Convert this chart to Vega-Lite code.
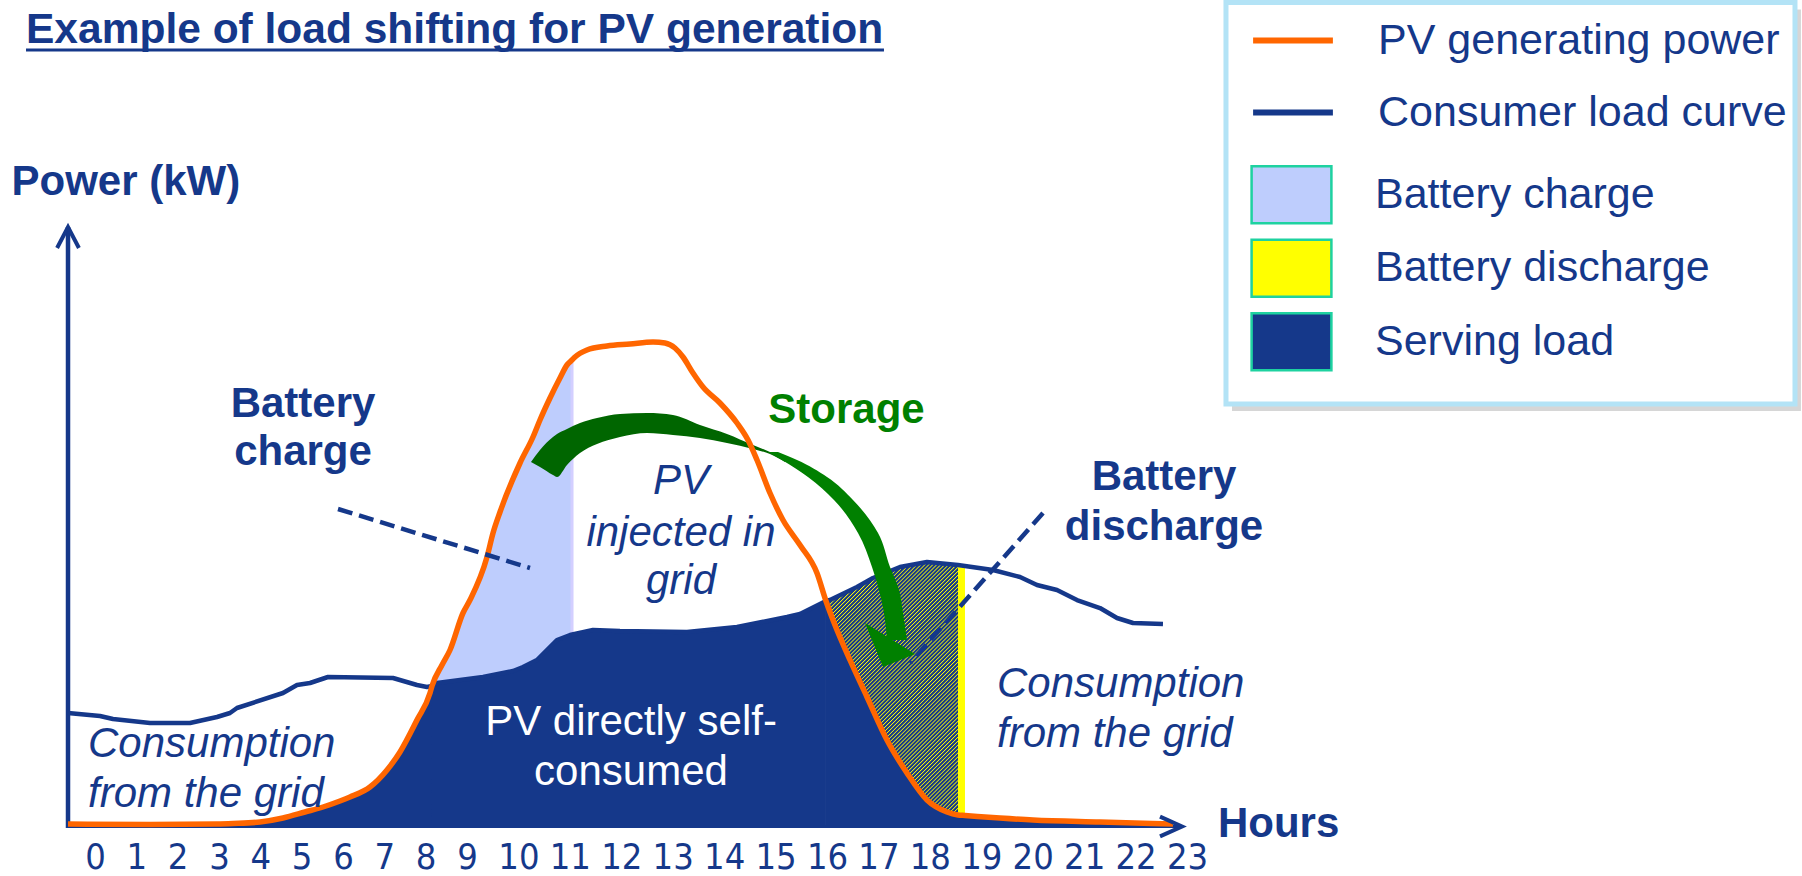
{
  "$schema": "https://vega.github.io/schema/vega-lite/v6.json",
  "width": 1802,
  "height": 876,
  "padding": 0,
  "autosize": "none",
  "background": "white",
  "config": {"view": {"stroke": null}, "font": "Liberation Sans"},
  "datasets": {
    "pv": [
      {"h": -0.653, "kw": 0.02}, {"h": 1.331, "kw": 0.01}, {"h": 2.952, "kw": 0.02}, {"h": 3.339, "kw": 0.03},
      {"h": 3.992, "kw": 0.06}, {"h": 4.548, "kw": 0.14}, {"h": 5.081, "kw": 0.26}, {"h": 5.516, "kw": 0.36},
      {"h": 5.927, "kw": 0.48}, {"h": 6.169, "kw": 0.56}, {"h": 6.653, "kw": 0.76}, {"h": 7.065, "kw": 1.10},
      {"h": 7.379, "kw": 1.46}, {"h": 7.790, "kw": 2.10}, {"h": 8.105, "kw": 2.64}, {"h": 8.153, "kw": 2.78},
      {"h": 8.395, "kw": 3.20}, {"h": 8.589, "kw": 3.50}, {"h": 8.903, "kw": 4.24}, {"h": 9.058, "kw": 4.50},
      {"h": 9.389, "kw": 5.36}, {"h": 9.506, "kw": 5.84}, {"h": 9.642, "kw": 6.26}, {"h": 10.031, "kw": 7.24},
      {"h": 10.283, "kw": 7.76}, {"h": 10.419, "kw": 8.10}, {"h": 10.614, "kw": 8.54}, {"h": 10.808, "kw": 8.94},
      {"h": 10.944, "kw": 9.20}, {"h": 11.042, "kw": 9.30}, {"h": 11.100, "kw": 9.36}, {"h": 11.333, "kw": 9.50},
      {"h": 11.722, "kw": 9.58}, {"h": 12.169, "kw": 9.62}, {"h": 12.617, "kw": 9.66}, {"h": 12.850, "kw": 9.64},
      {"h": 13.044, "kw": 9.54}, {"h": 13.200, "kw": 9.36}, {"h": 13.394, "kw": 9.04}, {"h": 13.589, "kw": 8.76},
      {"h": 13.919, "kw": 8.44}, {"h": 14.250, "kw": 8.04}, {"h": 14.464, "kw": 7.70}, {"h": 14.639, "kw": 7.30},
      {"h": 14.891, "kw": 6.64}, {"h": 15.144, "kw": 6.10}, {"h": 15.475, "kw": 5.60}, {"h": 15.805, "kw": 5.04},
      {"h": 15.980, "kw": 4.48}, {"h": 16.155, "kw": 4.00}, {"h": 16.447, "kw": 3.30}, {"h": 16.778, "kw": 2.56},
      {"h": 17.166, "kw": 1.70}, {"h": 17.555, "kw": 1.04}, {"h": 17.944, "kw": 0.50}, {"h": 18.333, "kw": 0.26},
      {"h": 18.547, "kw": 0.20}, {"h": 18.683, "kw": 0.19}, {"h": 19.364, "kw": 0.14}, {"h": 20.005, "kw": 0.10},
      {"h": 21.308, "kw": 0.06}, {"h": 22.727, "kw": 0.02}
    ],
    "load": [
      {"h": -0.653, "kw": 2.24}, {"h": 0.121, "kw": 2.18}, {"h": 0.435, "kw": 2.12}, {"h": 1.331, "kw": 2.04},
      {"h": 2.298, "kw": 2.04}, {"h": 2.952, "kw": 2.16}, {"h": 3.266, "kw": 2.24}, {"h": 3.435, "kw": 2.34},
      {"h": 4.548, "kw": 2.64}, {"h": 4.887, "kw": 2.80}, {"h": 5.202, "kw": 2.84}, {"h": 5.637, "kw": 2.96},
      {"h": 7.210, "kw": 2.94}, {"h": 7.790, "kw": 2.80}, {"h": 8.032, "kw": 2.76}, {"h": 8.153, "kw": 2.78},
      {"h": 8.274, "kw": 2.84}, {"h": 9.311, "kw": 2.96}, {"h": 9.894, "kw": 3.08}, {"h": 10.089, "kw": 3.16},
      {"h": 10.361, "kw": 3.30}, {"h": 10.750, "kw": 3.70}, {"h": 11.003, "kw": 3.80}, {"h": 11.450, "kw": 3.90},
      {"h": 11.975, "kw": 3.88}, {"h": 13.278, "kw": 3.86}, {"h": 14.250, "kw": 3.96}, {"h": 15.222, "kw": 4.16},
      {"h": 15.475, "kw": 4.22}, {"h": 15.980, "kw": 4.48}, {"h": 16.058, "kw": 4.50}, {"h": 16.583, "kw": 4.76},
      {"h": 16.894, "kw": 4.94}, {"h": 17.419, "kw": 5.16}, {"h": 17.944, "kw": 5.26}, {"h": 18.547, "kw": 5.20},
      {"h": 18.683, "kw": 5.18}, {"h": 19.228, "kw": 5.10}, {"h": 19.753, "kw": 4.96}, {"h": 20.083, "kw": 4.80},
      {"h": 20.472, "kw": 4.70}, {"h": 20.861, "kw": 4.50}, {"h": 21.308, "kw": 4.34}, {"h": 21.639, "kw": 4.14},
      {"h": 21.950, "kw": 4.04}, {"h": 22.533, "kw": 4.02}
    ],
    "arrowA": [
      {"h": 10.244, "kw": 7.26, "kw2": 7.26}, {"h": 10.419, "kw": 7.50, "kw2": 7.16}, {"h": 10.672, "kw": 7.76, "kw2": 7.00},
      {"h": 10.750, "kw": 7.82, "kw2": 6.96}, {"h": 10.944, "kw": 7.92, "kw2": 7.20}, {"h": 11.197, "kw": 8.04, "kw2": 7.44},
      {"h": 11.528, "kw": 8.14, "kw2": 7.62}, {"h": 11.975, "kw": 8.22, "kw2": 7.76}, {"h": 12.500, "kw": 8.24, "kw2": 7.84},
      {"h": 13.005, "kw": 8.20, "kw2": 7.80}, {"h": 13.530, "kw": 8.00, "kw2": 7.74}, {"h": 14.055, "kw": 7.82, "kw2": 7.64},
      {"h": 14.561, "kw": 7.60, "kw2": 7.52}, {"h": 14.891, "kw": 7.46, "kw2": 7.42}, {"h": 15.183, "kw": 7.30, "kw2": 7.26}
    ],
    "arrowB": [
      {"kw": 7.46, "h": 14.853, "h2": 15.047}, {"kw": 7.30, "h": 15.125, "h2": 15.417}, {"kw": 6.96, "h": 15.630, "h2": 16.000},
      {"kw": 6.50, "h": 16.136, "h2": 16.505}, {"kw": 5.84, "h": 16.603, "h2": 16.992}, {"kw": 5.16, "h": 16.875, "h2": 17.225},
      {"kw": 4.70, "h": 17.011, "h2": 17.400}, {"kw": 4.24, "h": 17.108, "h2": 17.478}, {"kw": 3.70, "h": 17.167, "h2": 17.555}
    ]
  },
  "encoding": {
    "x": {"field": "h", "type": "quantitative",
          "scale": {"domain": [0, 9, 23], "range": [95, 467, 1187], "nice": false, "zero": false},
          "axis": {"orient": "bottom", "offset": -8, "values": [0, 1, 2, 3, 4, 5, 6, 7, 8, 9, 10, 11, 12, 13, 14, 15, 16, 17, 18, 19, 20, 21, 22, 23],
                   "format": "d", "title": null, "domain": false, "ticks": false, "tickSize": 0, "grid": false,
                   "labelFont": "Liberation Sans Narrow, DejaVu Sans Condensed, Liberation Sans, sans-serif", "labelFontSize": 36, "labelColor": "#15388A", "labelPadding": 0,
                   "labelBaseline": "alphabetic", "labelAlign": "center", "labelFlush": false, "labelOverlap": false, "labelBound": false}},
    "y": {"field": "kw", "type": "quantitative", "axis": null,
          "scale": {"domain": [-1.02, 16.5], "nice": false, "zero": false}}
  },
  "layer": [
    {
      "data": {"values": [{"h": 23.875, "h2": 34.938, "kw": 16.31, "kw2": 8.28}]},
      "mark": {"type": "rect", "color": "#CCCCCC", "opacity": 0.8},
      "encoding": {"x2": {"field": "h2"}, "y2": {"field": "kw2"}}
    },
    {
      "data": {"values": [{"h": 23.758, "h2": 34.822, "kw": 16.45, "kw2": 8.42}]},
      "mark": {"type": "rect", "fill": "#FFFFFF", "stroke": "#B3E3F6", "strokeWidth": 5, "opacity": 1},
      "encoding": {"x2": {"field": "h2"}, "y2": {"field": "kw2"}}
    },
    {
      "data": {"name": "pv"},
      "transform": [{"filter": "datum.h >= 8.153 && datum.h <= 11.042"}],
      "mark": {"type": "area", "interpolate": "monotone", "opacity": 1},
      "encoding": {
        "y2": {"datum": 0},
        "fill": {
          "datum": "Battery charge",
          "scale": {"domain": ["Battery charge", "Battery discharge", "Serving load"], "range": ["#BECDFD", "#FFFF00", "#15388A"]},
          "legend": {
            "title": null, "orient": "none", "legendX": 1261.5, "legendY": 164.8, "direction": "vertical", "padding": 0,
            "labelFont": "Liberation Sans", "labelFontSize": 43, "labelColor": "#15388A", "labelOffset": 53.5, "labelLimit": 1000,
            "symbolType": "M-1.4,-1L1.4,-1L1.4,1L-1.4,1Z", "symbolSize": 3249, "symbolOffset": 0,
            "symbolStrokeColor": "#1ED2A0", "symbolStrokeWidth": 2.5, "symbolOpacity": 1, "rowPadding": 5.5
          }
        }
      }
    },
    {
      "data": {"values": [{"h": 11.042, "kw": 3.82, "kw2": 9.24}]},
      "mark": {"type": "rule", "color": "#D3CFFF", "strokeWidth": 3},
      "encoding": {"y2": {"field": "kw2"}}
    },
    {
      "data": {"name": "load"},
      "transform": [{"filter": "datum.h >= 15.98 && datum.h <= 18.683"}],
      "mark": {"type": "area", "opacity": 1},
      "encoding": {
        "y2": {"datum": 0},
        "fill": {"datum": "Battery discharge",
          "scale": {"domain": ["Battery charge", "Battery discharge", "Serving load"], "range": ["#BECDFD", "#FFFF00", "#15388A"]}}
      }
    },
    {
      "data": {"name": "load"},
      "transform": [{"filter": "datum.h >= 15.98 && datum.h <= 18.547"}],
      "mark": {"type": "area", "opacity": 1,
        "fill": {"gradient": "linear", "x1": 0, "y1": 0, "x2": 0.602, "y2": 1.2, "stops": [
          {"offset": 0, "color": "#15388A"}, {"offset": 0.0045, "color": "#15388A"}, {"offset": 0.007, "color": "#FFFF00"},
          {"offset": 0.01, "color": "#15388A"}, {"offset": 0.0145, "color": "#15388A"}, {"offset": 0.017, "color": "#FFFF00"},
          {"offset": 0.02, "color": "#15388A"}, {"offset": 0.0245, "color": "#15388A"}, {"offset": 0.027, "color": "#FFFF00"},
          {"offset": 0.03, "color": "#15388A"}, {"offset": 0.0345, "color": "#15388A"}, {"offset": 0.037, "color": "#FFFF00"},
          {"offset": 0.04, "color": "#15388A"}, {"offset": 0.0445, "color": "#15388A"}, {"offset": 0.047, "color": "#FFFF00"},
          {"offset": 0.05, "color": "#15388A"}, {"offset": 0.0545, "color": "#15388A"}, {"offset": 0.057, "color": "#FFFF00"},
          {"offset": 0.06, "color": "#15388A"}, {"offset": 0.0645, "color": "#15388A"}, {"offset": 0.067, "color": "#FFFF00"},
          {"offset": 0.07, "color": "#15388A"}, {"offset": 0.0745, "color": "#15388A"}, {"offset": 0.077, "color": "#FFFF00"},
          {"offset": 0.08, "color": "#15388A"}, {"offset": 0.0845, "color": "#15388A"}, {"offset": 0.087, "color": "#FFFF00"},
          {"offset": 0.09, "color": "#15388A"}, {"offset": 0.0945, "color": "#15388A"}, {"offset": 0.097, "color": "#FFFF00"},
          {"offset": 0.10, "color": "#15388A"}, {"offset": 0.1045, "color": "#15388A"}, {"offset": 0.107, "color": "#FFFF00"},
          {"offset": 0.11, "color": "#15388A"}, {"offset": 0.1145, "color": "#15388A"}, {"offset": 0.117, "color": "#FFFF00"},
          {"offset": 0.12, "color": "#15388A"}, {"offset": 0.1245, "color": "#15388A"}, {"offset": 0.127, "color": "#FFFF00"},
          {"offset": 0.13, "color": "#15388A"}, {"offset": 0.1345, "color": "#15388A"}, {"offset": 0.137, "color": "#FFFF00"},
          {"offset": 0.14, "color": "#15388A"}, {"offset": 0.1445, "color": "#15388A"}, {"offset": 0.147, "color": "#FFFF00"},
          {"offset": 0.15, "color": "#15388A"}, {"offset": 0.1545, "color": "#15388A"}, {"offset": 0.157, "color": "#FFFF00"},
          {"offset": 0.16, "color": "#15388A"}, {"offset": 0.1645, "color": "#15388A"}, {"offset": 0.167, "color": "#FFFF00"},
          {"offset": 0.17, "color": "#15388A"}, {"offset": 0.1745, "color": "#15388A"}, {"offset": 0.177, "color": "#FFFF00"},
          {"offset": 0.18, "color": "#15388A"}, {"offset": 0.1845, "color": "#15388A"}, {"offset": 0.187, "color": "#FFFF00"},
          {"offset": 0.19, "color": "#15388A"}, {"offset": 0.1945, "color": "#15388A"}, {"offset": 0.197, "color": "#FFFF00"},
          {"offset": 0.20, "color": "#15388A"}, {"offset": 0.2045, "color": "#15388A"}, {"offset": 0.207, "color": "#FFFF00"},
          {"offset": 0.21, "color": "#15388A"}, {"offset": 0.2145, "color": "#15388A"}, {"offset": 0.217, "color": "#FFFF00"},
          {"offset": 0.22, "color": "#15388A"}, {"offset": 0.2245, "color": "#15388A"}, {"offset": 0.227, "color": "#FFFF00"},
          {"offset": 0.23, "color": "#15388A"}, {"offset": 0.2345, "color": "#15388A"}, {"offset": 0.237, "color": "#FFFF00"},
          {"offset": 0.24, "color": "#15388A"}, {"offset": 0.2445, "color": "#15388A"}, {"offset": 0.247, "color": "#FFFF00"},
          {"offset": 0.25, "color": "#15388A"}, {"offset": 0.2545, "color": "#15388A"}, {"offset": 0.257, "color": "#FFFF00"},
          {"offset": 0.26, "color": "#15388A"}, {"offset": 0.2645, "color": "#15388A"}, {"offset": 0.267, "color": "#FFFF00"},
          {"offset": 0.27, "color": "#15388A"}, {"offset": 0.2745, "color": "#15388A"}, {"offset": 0.277, "color": "#FFFF00"},
          {"offset": 0.28, "color": "#15388A"}, {"offset": 0.2845, "color": "#15388A"}, {"offset": 0.287, "color": "#FFFF00"},
          {"offset": 0.29, "color": "#15388A"}, {"offset": 0.2945, "color": "#15388A"}, {"offset": 0.297, "color": "#FFFF00"},
          {"offset": 0.30, "color": "#15388A"}, {"offset": 0.3045, "color": "#15388A"}, {"offset": 0.307, "color": "#FFFF00"},
          {"offset": 0.31, "color": "#15388A"}, {"offset": 0.3145, "color": "#15388A"}, {"offset": 0.317, "color": "#FFFF00"},
          {"offset": 0.32, "color": "#15388A"}, {"offset": 0.3245, "color": "#15388A"}, {"offset": 0.327, "color": "#FFFF00"},
          {"offset": 0.33, "color": "#15388A"}, {"offset": 0.3345, "color": "#15388A"}, {"offset": 0.337, "color": "#FFFF00"},
          {"offset": 0.34, "color": "#15388A"}, {"offset": 0.3445, "color": "#15388A"}, {"offset": 0.347, "color": "#FFFF00"},
          {"offset": 0.35, "color": "#15388A"}, {"offset": 0.3545, "color": "#15388A"}, {"offset": 0.357, "color": "#FFFF00"},
          {"offset": 0.36, "color": "#15388A"}, {"offset": 0.3645, "color": "#15388A"}, {"offset": 0.367, "color": "#FFFF00"},
          {"offset": 0.37, "color": "#15388A"}, {"offset": 0.3745, "color": "#15388A"}, {"offset": 0.377, "color": "#FFFF00"},
          {"offset": 0.38, "color": "#15388A"}, {"offset": 0.3845, "color": "#15388A"}, {"offset": 0.387, "color": "#FFFF00"},
          {"offset": 0.39, "color": "#15388A"}, {"offset": 0.3945, "color": "#15388A"}, {"offset": 0.397, "color": "#FFFF00"},
          {"offset": 0.40, "color": "#15388A"}, {"offset": 0.4045, "color": "#15388A"}, {"offset": 0.407, "color": "#FFFF00"},
          {"offset": 0.41, "color": "#15388A"}, {"offset": 0.4145, "color": "#15388A"}, {"offset": 0.417, "color": "#FFFF00"},
          {"offset": 0.42, "color": "#15388A"}, {"offset": 0.4245, "color": "#15388A"}, {"offset": 0.427, "color": "#FFFF00"},
          {"offset": 0.43, "color": "#15388A"}, {"offset": 0.4345, "color": "#15388A"}, {"offset": 0.437, "color": "#FFFF00"},
          {"offset": 0.44, "color": "#15388A"}, {"offset": 0.4445, "color": "#15388A"}, {"offset": 0.447, "color": "#FFFF00"},
          {"offset": 0.45, "color": "#15388A"}, {"offset": 0.4545, "color": "#15388A"}, {"offset": 0.457, "color": "#FFFF00"},
          {"offset": 0.46, "color": "#15388A"}, {"offset": 0.4645, "color": "#15388A"}, {"offset": 0.467, "color": "#FFFF00"},
          {"offset": 0.47, "color": "#15388A"}, {"offset": 0.4745, "color": "#15388A"}, {"offset": 0.477, "color": "#FFFF00"},
          {"offset": 0.48, "color": "#15388A"}, {"offset": 0.4845, "color": "#15388A"}, {"offset": 0.487, "color": "#FFFF00"},
          {"offset": 0.49, "color": "#15388A"}, {"offset": 0.4945, "color": "#15388A"}, {"offset": 0.497, "color": "#FFFF00"},
          {"offset": 0.50, "color": "#15388A"}, {"offset": 0.5045, "color": "#15388A"}, {"offset": 0.507, "color": "#FFFF00"},
          {"offset": 0.51, "color": "#15388A"}, {"offset": 0.5145, "color": "#15388A"}, {"offset": 0.517, "color": "#FFFF00"},
          {"offset": 0.52, "color": "#15388A"}, {"offset": 0.5245, "color": "#15388A"}, {"offset": 0.527, "color": "#FFFF00"},
          {"offset": 0.53, "color": "#15388A"}, {"offset": 0.5345, "color": "#15388A"}, {"offset": 0.537, "color": "#FFFF00"},
          {"offset": 0.54, "color": "#15388A"}, {"offset": 0.5445, "color": "#15388A"}, {"offset": 0.547, "color": "#FFFF00"},
          {"offset": 0.55, "color": "#15388A"}, {"offset": 0.5545, "color": "#15388A"}, {"offset": 0.557, "color": "#FFFF00"},
          {"offset": 0.56, "color": "#15388A"}, {"offset": 0.5645, "color": "#15388A"}, {"offset": 0.567, "color": "#FFFF00"},
          {"offset": 0.57, "color": "#15388A"}, {"offset": 0.5745, "color": "#15388A"}, {"offset": 0.577, "color": "#FFFF00"},
          {"offset": 0.58, "color": "#15388A"}, {"offset": 0.5845, "color": "#15388A"}, {"offset": 0.587, "color": "#FFFF00"},
          {"offset": 0.59, "color": "#15388A"}, {"offset": 0.5945, "color": "#15388A"}, {"offset": 0.597, "color": "#FFFF00"},
          {"offset": 0.60, "color": "#15388A"}, {"offset": 0.6045, "color": "#15388A"}, {"offset": 0.607, "color": "#FFFF00"},
          {"offset": 0.61, "color": "#15388A"}, {"offset": 0.6145, "color": "#15388A"}, {"offset": 0.617, "color": "#FFFF00"},
          {"offset": 0.62, "color": "#15388A"}, {"offset": 0.6245, "color": "#15388A"}, {"offset": 0.627, "color": "#FFFF00"},
          {"offset": 0.63, "color": "#15388A"}, {"offset": 0.6345, "color": "#15388A"}, {"offset": 0.637, "color": "#FFFF00"},
          {"offset": 0.64, "color": "#15388A"}, {"offset": 0.6445, "color": "#15388A"}, {"offset": 0.647, "color": "#FFFF00"},
          {"offset": 0.65, "color": "#15388A"}, {"offset": 0.6545, "color": "#15388A"}, {"offset": 0.657, "color": "#FFFF00"},
          {"offset": 0.66, "color": "#15388A"}, {"offset": 0.6645, "color": "#15388A"}, {"offset": 0.667, "color": "#FFFF00"},
          {"offset": 0.67, "color": "#15388A"}, {"offset": 0.6745, "color": "#15388A"}, {"offset": 0.677, "color": "#FFFF00"},
          {"offset": 0.68, "color": "#15388A"}, {"offset": 0.6845, "color": "#15388A"}, {"offset": 0.687, "color": "#FFFF00"},
          {"offset": 0.69, "color": "#15388A"}, {"offset": 0.6945, "color": "#15388A"}, {"offset": 0.697, "color": "#FFFF00"},
          {"offset": 0.70, "color": "#15388A"}, {"offset": 0.7045, "color": "#15388A"}, {"offset": 0.707, "color": "#FFFF00"},
          {"offset": 0.71, "color": "#15388A"}, {"offset": 0.7145, "color": "#15388A"}, {"offset": 0.717, "color": "#FFFF00"},
          {"offset": 0.72, "color": "#15388A"}, {"offset": 0.7245, "color": "#15388A"}, {"offset": 0.727, "color": "#FFFF00"},
          {"offset": 0.73, "color": "#15388A"}, {"offset": 0.7345, "color": "#15388A"}, {"offset": 0.737, "color": "#FFFF00"},
          {"offset": 0.74, "color": "#15388A"}, {"offset": 0.7445, "color": "#15388A"}, {"offset": 0.747, "color": "#FFFF00"},
          {"offset": 0.75, "color": "#15388A"}, {"offset": 0.7545, "color": "#15388A"}, {"offset": 0.757, "color": "#FFFF00"},
          {"offset": 0.76, "color": "#15388A"}, {"offset": 0.7645, "color": "#15388A"}, {"offset": 0.767, "color": "#FFFF00"},
          {"offset": 0.77, "color": "#15388A"}, {"offset": 0.7745, "color": "#15388A"}, {"offset": 0.777, "color": "#FFFF00"},
          {"offset": 0.78, "color": "#15388A"}, {"offset": 0.7845, "color": "#15388A"}, {"offset": 0.787, "color": "#FFFF00"},
          {"offset": 0.79, "color": "#15388A"}, {"offset": 0.7945, "color": "#15388A"}, {"offset": 0.797, "color": "#FFFF00"},
          {"offset": 0.80, "color": "#15388A"}, {"offset": 0.8045, "color": "#15388A"}, {"offset": 0.807, "color": "#FFFF00"},
          {"offset": 0.81, "color": "#15388A"}, {"offset": 0.8145, "color": "#15388A"}, {"offset": 0.817, "color": "#FFFF00"},
          {"offset": 0.82, "color": "#15388A"}, {"offset": 0.8245, "color": "#15388A"}, {"offset": 0.827, "color": "#FFFF00"},
          {"offset": 0.83, "color": "#15388A"}, {"offset": 0.8345, "color": "#15388A"}, {"offset": 0.837, "color": "#FFFF00"},
          {"offset": 0.84, "color": "#15388A"}, {"offset": 0.8445, "color": "#15388A"}, {"offset": 0.847, "color": "#FFFF00"},
          {"offset": 0.85, "color": "#15388A"}, {"offset": 0.8545, "color": "#15388A"}, {"offset": 0.857, "color": "#FFFF00"},
          {"offset": 0.86, "color": "#15388A"}, {"offset": 0.8645, "color": "#15388A"}, {"offset": 0.867, "color": "#FFFF00"},
          {"offset": 0.87, "color": "#15388A"}, {"offset": 0.8745, "color": "#15388A"}, {"offset": 0.877, "color": "#FFFF00"},
          {"offset": 0.88, "color": "#15388A"}, {"offset": 0.8845, "color": "#15388A"}, {"offset": 0.887, "color": "#FFFF00"},
          {"offset": 0.89, "color": "#15388A"}, {"offset": 0.8945, "color": "#15388A"}, {"offset": 0.897, "color": "#FFFF00"},
          {"offset": 0.90, "color": "#15388A"}, {"offset": 0.9045, "color": "#15388A"}, {"offset": 0.907, "color": "#FFFF00"},
          {"offset": 0.91, "color": "#15388A"}, {"offset": 0.9145, "color": "#15388A"}, {"offset": 0.917, "color": "#FFFF00"},
          {"offset": 0.92, "color": "#15388A"}, {"offset": 0.9245, "color": "#15388A"}, {"offset": 0.927, "color": "#FFFF00"},
          {"offset": 0.93, "color": "#15388A"}, {"offset": 0.9345, "color": "#15388A"}, {"offset": 0.937, "color": "#FFFF00"},
          {"offset": 0.94, "color": "#15388A"}, {"offset": 0.9445, "color": "#15388A"}, {"offset": 0.947, "color": "#FFFF00"},
          {"offset": 0.95, "color": "#15388A"}, {"offset": 0.9545, "color": "#15388A"}, {"offset": 0.957, "color": "#FFFF00"},
          {"offset": 0.96, "color": "#15388A"}, {"offset": 0.9645, "color": "#15388A"}, {"offset": 0.967, "color": "#FFFF00"},
          {"offset": 0.97, "color": "#15388A"}, {"offset": 0.9745, "color": "#15388A"}, {"offset": 0.977, "color": "#FFFF00"},
          {"offset": 0.98, "color": "#15388A"}, {"offset": 0.9845, "color": "#15388A"}, {"offset": 0.987, "color": "#FFFF00"},
          {"offset": 0.99, "color": "#15388A"}, {"offset": 0.9945, "color": "#15388A"}, {"offset": 0.997, "color": "#FFFF00"},
          {"offset": 1, "color": "#15388A"}
        ]}
      },
      "encoding": {"y2": {"datum": 0}}
    },
    {
      "data": {"name": "pv"},
      "transform": [{"filter": "datum.h <= 8.153"}],
      "mark": {"type": "area", "interpolate": "monotone", "opacity": 1},
      "encoding": {
        "y2": {"datum": 0},
        "fill": {"datum": "Serving load",
          "scale": {"domain": ["Battery charge", "Battery discharge", "Serving load"], "range": ["#BECDFD", "#FFFF00", "#15388A"]}}
      }
    },
    {
      "data": {"name": "load"},
      "transform": [{"filter": "datum.h >= 8.153 && datum.h <= 15.98"}],
      "mark": {"type": "area", "opacity": 1},
      "encoding": {
        "y2": {"datum": 0},
        "fill": {"datum": "Serving load",
          "scale": {"domain": ["Battery charge", "Battery discharge", "Serving load"], "range": ["#BECDFD", "#FFFF00", "#15388A"]}}
      }
    },
    {
      "data": {"name": "pv"},
      "transform": [{"filter": "datum.h >= 15.98"}],
      "mark": {"type": "area", "interpolate": "monotone", "opacity": 1},
      "encoding": {
        "y2": {"datum": 0},
        "fill": {"datum": "Serving load",
          "scale": {"domain": ["Battery charge", "Battery discharge", "Serving load"], "range": ["#BECDFD", "#FFFF00", "#15388A"]}}
      }
    },
    {
      "data": {"values": [{"h": -0.653, "h2": 22.903, "kw": -0.03}]},
      "mark": {"type": "rule", "color": "#15388A", "strokeWidth": 3},
      "encoding": {"x2": {"field": "h2"}}
    },
    {
      "data": {"values": [{"h": -0.653, "kw": -0.06, "kw2": 11.96}]},
      "mark": {"type": "rule", "color": "#15388A", "strokeWidth": 4.5},
      "encoding": {"y2": {"field": "kw2"}}
    },
    {
      "data": {"name": "load"},
      "mark": {"type": "line", "strokeWidth": 4.5, "strokeJoin": "round"},
      "encoding": {
        "stroke": {"datum": "Consumer load curve",
          "scale": {"domain": ["PV generating power", "Consumer load curve"], "range": ["#FF6600", "#15388A"]},
          "legend": {
            "title": null, "orient": "none", "legendX": 1261.5, "legendY": 9, "direction": "vertical", "padding": 0,
            "labelFont": "Liberation Sans", "labelFontSize": 43, "labelColor": "#15388A", "labelOffset": 53.5, "labelLimit": 1000,
            "symbolType": "M-1.4,0L1.4,0", "symbolSize": 3249, "symbolOffset": 0, "symbolStrokeWidth": 6, "symbolOpacity": 1, "rowPadding": 18
          }
        }
      }
    },
    {
      "data": {"name": "arrowA"},
      "mark": {"type": "area", "interpolate": "monotone", "color": "#006600", "opacity": 1},
      "encoding": {"y2": {"field": "kw2"}}
    },
    {
      "data": {"name": "arrowB"},
      "mark": {"type": "area", "orient": "horizontal", "interpolate": "monotone", "color": "#008000", "opacity": 1},
      "encoding": {"x2": {"field": "h2"}}
    },
    {
      "data": {"values": [{"h": 17.225, "kw": 3.73}]},
      "mark": {"type": "point", "shape": "M-1,0L1,0L0.31,0.95Z", "size": 3457, "angle": 31.8, "filled": true, "color": "#008000", "opacity": 1, "strokeWidth": 0}
    },
    {
      "data": {"name": "pv"},
      "mark": {"type": "line", "interpolate": "monotone", "strokeWidth": 5.5, "strokeJoin": "round"},
      "encoding": {
        "stroke": {"datum": "PV generating power",
          "scale": {"domain": ["PV generating power", "Consumer load curve"], "range": ["#FF6600", "#15388A"]}}
      }
    },
    {
      "data": {"values": [{"h": 5.879, "kw": 6.32}, {"h": 10.225, "kw": 5.14}]},
      "mark": {"type": "line", "color": "#15388A", "strokeWidth": 4.5, "strokeDash": [15, 7]}
    },
    {
      "data": {"values": [{"h": 20.200, "kw": 6.24}, {"h": 17.614, "kw": 3.24}]},
      "mark": {"type": "line", "color": "#15388A", "strokeWidth": 4.5, "strokeDash": [15, 7]},
      "encoding": {"order": {"field": "kw", "sort": "descending"}}
    },
    {
      "data": {"values": [{"text": "Example of load shifting for PV generation", "h": -1.669, "kw": 15.64}]},
      "mark": {"type": "text", "font": "Liberation Sans", "fontWeight": "bold", "fontSize": 42.5, "align": "left", "baseline": "alphabetic", "color": "#15388A"},
      "encoding": {"text": {"field": "text"}}
    },
    {
      "data": {"values": [{"h": -1.669, "h2": 17.108, "kw": 15.50}]},
      "mark": {"type": "rule", "color": "#15388A", "strokeWidth": 3},
      "encoding": {"x2": {"field": "h2"}}
    },
    {
      "data": {"values": [{"text": "Power (kW)", "h": -2.02, "kw": 12.6}, {"text": "Hours", "h": 23.602, "kw": -0.24}]},
      "mark": {"type": "text", "font": "Liberation Sans", "fontWeight": "bold", "fontSize": 42, "align": "left", "baseline": "alphabetic", "color": "#15388A"},
      "encoding": {"text": {"field": "text"}}
    },
    {
      "data": {"values": [
        {"text": "Battery", "h": 5.032, "kw": 8.16}, {"text": "charge", "h": 5.032, "kw": 7.20},
        {"text": "Battery", "h": 22.553, "kw": 6.70}, {"text": "discharge", "h": 22.553, "kw": 5.70}
      ]},
      "mark": {"type": "text", "font": "Liberation Sans", "fontWeight": "bold", "fontSize": 42, "align": "center", "baseline": "alphabetic", "color": "#15388A"},
      "encoding": {"text": {"field": "text"}}
    },
    {
      "data": {"values": [{"text": "Storage", "h": 16.379, "kw": 8.04}]},
      "mark": {"type": "text", "font": "Liberation Sans", "fontWeight": "bold", "fontSize": 42, "align": "center", "baseline": "alphabetic", "color": "#008000"},
      "encoding": {"text": {"field": "text"}}
    },
    {
      "data": {"values": [{"text": "PV", "h": 13.161, "kw": 6.62}, {"text": "injected in", "h": 13.161, "kw": 5.59}, {"text": "grid", "h": 13.161, "kw": 4.62}]},
      "mark": {"type": "text", "font": "Liberation Sans", "fontStyle": "italic", "fontSize": 42, "align": "center", "baseline": "alphabetic", "color": "#15388A"},
      "encoding": {"text": {"field": "text"}}
    },
    {
      "data": {"values": [
        {"text": "Consumption", "h": 19.305, "kw": 2.56}, {"text": "from the grid", "h": 19.305, "kw": 1.56},
        {"text": "Consumption", "h": -0.169, "kw": 1.36}, {"text": "from the grid", "h": -0.169, "kw": 0.36}
      ]},
      "mark": {"type": "text", "font": "Liberation Sans", "fontStyle": "italic", "fontSize": 42, "align": "left", "baseline": "alphabetic", "color": "#15388A"},
      "encoding": {"text": {"field": "text"}}
    },
    {
      "data": {"values": [{"text": "PV directly self-", "h": 12.189, "kw": 1.80}, {"text": "consumed", "h": 12.189, "kw": 0.80}]},
      "mark": {"type": "text", "font": "Liberation Sans", "fontSize": 42, "align": "center", "baseline": "alphabetic", "color": "#FFFFFF"},
      "encoding": {"text": {"field": "text"}}
    },
    {
      "data": {"values": [{"h": 22.903, "kw": -0.03}]},
      "mark": {"type": "point", "shape": "M-1,-0.45L0,0L-1,0.45", "size": 1936, "filled": false, "color": "#15388A", "strokeWidth": 4, "opacity": 1}
    },
    {
      "data": {"values": [{"h": -0.653, "kw": 11.96}]},
      "mark": {"type": "point", "shape": "M-0.52,1L0,0L0.52,1", "size": 1764, "filled": false, "color": "#15388A", "strokeWidth": 4, "opacity": 1}
    }
  ]
}
